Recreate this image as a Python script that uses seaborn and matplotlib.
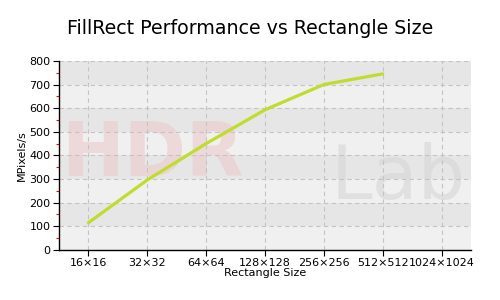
import matplotlib
matplotlib.use("Agg")
import matplotlib.pyplot as plt
import seaborn as sns
import pandas as pd
import numpy as np

categories = ["16×16", "32×32", "64×64", "128×128", "256×256", "512×512", "1024×1024"]
values = [115, 296, 450, 593, 700, 745, np.nan]

sns.set_style("white")
plt.rcParams['font.family'] = ['DejaVu Sans']
plt.rcParams['text.color'] = 'black'
plt.rcParams['axes.labelcolor'] = 'black'
plt.rcParams['xtick.color'] = 'black'
plt.rcParams['ytick.color'] = 'black'

fig = plt.figure(figsize=(5, 3), dpi=100)
ax = fig.add_axes([0.118, 0.167, 0.824, 0.630])

# alternating bands
for i in range(8):
    ax.axhspan(i * 100, (i + 1) * 100, color="#e6e6e6" if i % 2 else "#f0f0f0", zorder=0, lw=0)

# watermark
ax.text(0.005, 0.50, "HDR", transform=ax.transAxes, fontsize=54, color="#eccaca",
        alpha=0.6, ha="left", va="center", zorder=0.5, fontweight="bold")
ax.text(0.66, 0.38, "Lab", transform=ax.transAxes, fontsize=54, color="#d6d6d6",
        alpha=0.6, ha="left", va="center", zorder=0.5)

df = pd.DataFrame({"size": categories, "mpix": values})
x = np.arange(len(categories))
sns.lineplot(x=x, y=df["mpix"], ax=ax, color="#c0dc2c", lw=2.3, zorder=3)

ax.set_xlim(-0.5, len(categories) - 0.5)
ax.set_ylim(0, 800)
ax.set_xticks(x)
ax.set_xticklabels(categories)
ax.set_yticks(range(0, 801, 100))
ax.set_yticks(range(50, 800, 100), minor=True)
ax.tick_params(axis="y", which="minor", length=2, color="red", width=0.8, direction="out", left=True)
ax.tick_params(axis="both", which="major", length=4, color="black", width=0.8, direction="out",
               labelsize=8, pad=2, left=True, bottom=True)
ax.grid(True, which="major", color="#c4c4c4", ls=(0, (4, 3)), lw=0.8, zorder=1)
ax.set_axisbelow(True)
for s in ["top", "right"]:
    ax.spines[s].set_visible(False)
for s in ["left", "bottom"]:
    ax.spines[s].set_color("black")
    ax.spines[s].set_linewidth(1)

ax.set_xlabel("Rectangle Size", fontsize=8, labelpad=0)
ax.set_ylabel("MPixels/s", fontsize=8, labelpad=2)
fig.suptitle("FillRect Performance vs Rectangle Size", fontsize=13.7, y=0.935)

fig.savefig("out.png", dpi=100)
